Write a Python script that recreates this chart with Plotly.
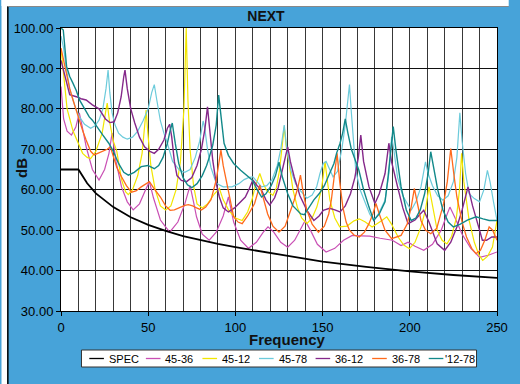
import plotly.graph_objects as go

# ---------------- data (frequency, dB) ----------------
series_names = ["SPEC", "45-36", "45-12", "45-78", "36-12", "36-78", "'12-78"]

spec_f = [0, 10, 15, 20, 30, 40, 50, 60, 70, 80, 90, 100, 125, 150, 175, 200, 225, 250]
spec_db = [65, 65, 61.6, 59.1, 55.7, 53.2, 51.3, 49.8, 48.5, 47.5, 46.6, 45.8, 44.0, 42.2, 40.9, 39.8, 38.9, 38.2]

pts_4536 = [(0,85.5),(1.5,77.5),(3.5,74.5),(6,73.5),(8.5,75.5),(10.5,79),(12,76),(14.5,70.5),(18,65),(21.8,62.4),
            (25,65),(27.5,69),(29.3,74),(31.5,67),(34.7,60.7),(38,57),(41.4,55),(45,56.5),(48.5,60),(50.7,62),
            (53,58),(57,52.5),(62.3,49.5),(67,52),(71,56.5),(74,61),(76,57),(77.7,53.3),(81,49),(85,47.5),
            (89,49.5),(93,53.5),(96,58.2),(99,52),(103,47.5),(107.5,45.5),(112,47),(116,49.5),(118.7,50.8),(122,49.5),
            (126,47),(130,45.8),(134,47.5),(137.5,50.5),(140,52.4),(143,50),(147,46.5),(152,44.6),(157,45.5),(162,47.5),
            (167,48.7),(172,48.6),(177,48.5),(183,48),(190,47.5),(195,46.2),(199,47),(203,46),(208,45),(213,46.5),
            (218,50),(221,53.5),(223,55.7),(226,53),(230,49),(235,45.5),(240,43.3),(245,43.8),(250,44.6)]

pts_4512 = [(0,95),(1.5,88),(3.5,80),(6.9,74.5),(9.7,71.5),(12.4,69),(15,68),(17,67.7),(20,69.5),(23.6,74),
            (25.5,79),(26.5,81.4),(27.8,77),(30,72),(32,69.5),(34.7,62.5),(37,59.5),(38.6,58.8),(41,60),(44,63.5),
            (46.5,69),(48,75),(48.8,79.7),(49.8,74),(51.5,66),(54,60),(57,56),(60,55),(63,56),(66,60),
            (68.5,67),(70.5,80),(71.8,100),(72.8,82),(74,70),(76,61),(78,56.5),(81,55.5),(84,56.5),(88,59),
            (90.8,60.3),(93,57.5),(96.2,54.9),(100,53),(103.9,52.4),(107,54.5),(109.5,57.5),(111.3,60.7),(114,64),(116,61.5),
            (117.8,59.9),(121.5,58.6),(123.5,60.5),(125.3,64.8),(126.8,70),(128,75.6),(129.3,70),(130.8,66.5),(133,60),(135.5,55.7),
            (138,53),(141,51.6),(144,53),(146.7,55.7),(149.3,60),(151.4,66.9),(152.8,62),(154.2,57.4),(157,53),(159.8,50.8),
            (164,51),(168,52.3),(171,52.8),(174.5,52),(178.4,50.8),(182,51.7),(184,52.4),(186.8,53.3),(189.5,51.5),(193.3,48.3),
            (196.5,46.3),(199.8,45.4),(203,47),(206.4,50.8),(209,55),(211,60.7),(213.3,55),(215.7,50),(218.5,47.5),(221.3,46.6),
            (224,48.5),(226.7,53),(228.5,60),(229.7,69),(231,62),(234,52.4),(237,47),(239.5,44),(241.8,42.5),(244.5,43.5),
            (247.4,45.8),(250,52.4)]

pts_4578 = [(0,98),(1.5,95),(3.2,89.6),(5,85),(6.9,82.2),(8.5,80),(10.6,78),(13.5,76.2),(17,75.2),(19.5,75.8),
            (21.8,77.2),(24,80),(25.8,85),(27,89.6),(28,84),(29.3,79),(31,76),(33,74),(35.5,73),(38,72.5),
            (41,73),(44,74.5),(47,77),(50,80),(52,84),(53.5,86),(55,82),(57,77),(59,74),(61,71.5),
            (64,67),(68,64.8),(71,64.3),(74,65),(77,68),(79.5,72),(81.5,77),(82.5,75),(84,70),(86,65.5),
            (89,61.6),(93,60.7),(98,60.7),(102,61.5),(105,62.5),(107.5,63),(110,63.2),(112.5,62),(115,60.7),(118,61),
            (121,62.5),(124,66),(126,70),(128,76),(129.5,70),(131.8,64.8),(134.5,61.5),(137,59.9),(141,57.9),(144,58.7),
            (146.6,60.7),(148.5,64),(150.4,66.5),(152,67),(154,65),(156,63.2),(158.5,64.5),(161,70),(163,76),(164.5,82),
            (165.4,86),(166.5,79),(169,64.8),(171.5,60),(174.6,56.6),(177,54),(179.3,52.4),(182,54),(185.8,57.4),(188,64),
            (189.6,73.1),(190.8,70),(193,63),(196,58.5),(200.8,54.9),(203.5,57),(206.4,60.7),(209,66.9),(210.5,64),(213,61),
            (216,58.5),(219,57.4),(222,58.5),(225,62),(227,68),(228.7,79),(230,72),(232,64),(234,59),(237,57.8),
            (240,57),(242.5,60),(244.5,64.8),(246,62),(248,57),(250,52.4)]

pts_3612 = [(0,92),(2.2,88),(3.2,86.4),(5,83.5),(8.8,83),(11.5,82.5),(14.4,82.2),(18,81),(21.8,80),(25.5,77.5),
            (28,76.6),(30.5,76.8),(32.5,79),(34.5,83),(36,88),(36.7,89.6),(38,85),(40,80),(42.3,76.5),(45,73),
            (47.9,70.6),(51,69.5),(53.5,69),(56,70),(59,72.3),(61,75.2),(62.3,76.2),(63.5,73),(65,67),(66.5,63.5),
            (69,62.3),(72,62),(75,63),(78,66),(80.5,70),(82.5,75),(84,80.5),(85.3,75),(87,67.3),(89,61.5),
            (90.8,58.2),(93,55.5),(96,54.5),(99.5,55.5),(102.5,56.7),(105.7,58.2),(108,60.3),(110,62.4),(112.5,61),(115,59.9),
            (117.5,57.5),(119.7,56.2),(122.5,58),(124.5,60.5),(126,63.2),(128,67),(130,70.6),(131.5,67),(133.7,63.2),(137,58.5),
            (141,54.9),(145,52.4),(148,53.5),(150.4,54.9),(154,55.4),(157,55),(160,54.5),(163,56),(166,59),(168.5,63),
            (170.5,68),(171.9,73.5),(173.5,67),(176.6,60.7),(180,56.6),(182.5,59),(185.8,64),(188,71.5),(189.5,67),(193,60.7),
            (196,55.5),(199,51.6),(203,52.5),(206,54),(208,54.9),(211,52),(215.7,46.6),(220,45),(223.5,47),(227,50.8),
            (230,55),(233.4,60.7),(236,56),(240,50),(241.6,47.5),(244,47.5),(247,48.3),(250,48.3)]

pts_3678 = [(0,95),(1.5,92),(3.2,88),(5,85),(6.9,82.2),(8.8,79.5),(10.6,77.2),(12.5,74.5),(14.4,72.3),(17,69.5),
            (19,68.6),(21.5,69),(24,69.5),(26.5,70),(28.3,70.6),(30,68),(32,65.5),(34.7,63.2),(37.5,61),(40.4,59.4),
            (43,59.7),(46,60.7),(48.5,61.5),(50.7,62),(53,60.5),(57,58.2),(60,56),(62.6,54.9),(65,55),(68.3,55.7),
            (71,56.1),(73,56.3),(75.5,56),(77.7,55.5),(80.5,55),(83,55.7),(86,57.5),(89,62.4),(90.5,66),(91.7,69.8),
            (93,66),(95.5,60.7),(99,53.3),(101.5,52),(103.9,51.6),(107,53.5),(109,55),(111,56.6),(114,61.1),(116,58),
            (118.5,54),(121.5,51),(125,49.5),(128.5,51),(131,54),(133.7,57.4),(135.8,60.5),(137.3,63.6),(139,59),(141,54.9),
            (144,51.5),(147.6,49.5),(151,51),(153.5,54),(155,57.4),(156.8,63),(158.3,69),(159.8,62),(161.6,55.7),(163.5,52),
            (165.4,50),(168,48.8),(171,48.3),(174,49.5),(176.6,51.6),(178.8,54),(180.6,56.6),(182.5,54),(185.8,50),(189.6,47.9),
            (195,48.7),(198.5,51.5),(200.8,55.7),(202.6,60.3),(204.5,56),(206.4,52.4),(209,50),(212,49.1),(215.5,50.5),(219.4,56.6),
            (221.5,62),(223.5,70.2),(225.2,64),(227,58.2),(230,52),(232.5,48.3),(235.5,45.5),(238,44.2),(240.5,45),(243,47.5),
            (245.5,50.8),(247.5,50),(250,47.5)]

pts_1278 = [(0,100),(1.3,99.5),(3.2,90.5),(5,88),(6.9,86.3),(8.8,84.5),(10.6,82.2),(13.4,80),(16.2,78),(18,77.2),
            (21,75.5),(24,73.5),(27.4,71.5),(30,69.5),(33,66.5),(36,64.3),(38.6,63.6),(42,64.3),(46,65.7),(49.8,66),
            (53.5,65.2),(56,66),(58.5,68),(61,71.5),(62.5,74.5),(63.8,76.5),(65.5,71.5),(67.5,66.5),(70,63),(72.5,61.2),
            (75,60.5),(78,61.5),(81,63.5),(83.5,66),(85,68),(87,71),(89,76),(90.4,83.4),(91.8,78),(93.5,71.5),
            (96,68.5),(99,66.5),(103,64.8),(106.5,63.5),(109.6,62.4),(112.5,60),(115,58.2),(117.5,59),(120.5,61),(123,63.5),
            (125,66.8),(127,63),(130,59),(133,56),(135,55),(137.5,54),(139.5,53.8),(142,55.5),(145,57.5),(148,59),
            (151,61),(154,64),(156.5,66.5),(158,69),(160,71.5),(161.5,74),(163,77.5),(164.5,74),(166.5,70),(170.8,64.8),
            (173.5,60),(176.6,55.7),(179.3,52.4),(182.5,54),(185.8,57),(187.5,63),(189,69),(190.5,75.6),(192,70),(195,60.7),
            (198,55),(200.8,52.4),(203.5,53),(206,55),(208.5,59),(210.5,64),(212,69.4),(213.5,66),(216,60),(219,55),
            (222,52),(225,50.8),(229,51.5),(233,52.5),(238,53.3),(242,52.8),(245.5,52.4),(250,52.4)]

x_ticks = [0, 50, 100, 150, 200, 250]
y_ticks = [30, 40, 50, 60, 70, 80, 90, 100]

# ---------------- styling ----------------
colors = ["#000000", "#C94FB4", "#F2E600", "#6CCBDB", "#85288A", "#FF6A1C", "#12898A"]
widths = [1.8, 1.2, 1.2, 1.2, 1.4, 1.3, 1.4]
BLUE = "#47A3D9"
FONT = "Liberation Sans, Arial, Helvetica, sans-serif"

W, H = 520, 384
L, R, T, B = 61, 508, 28, 311          # plot area in pixels
PW, PH = R - L, B - T

def px(xp):
    return (xp - L) / PW

def py(yp):
    return (B - yp) / PH

all_pts = [list(zip(spec_f, spec_db)), pts_4536, pts_4512, pts_4578, pts_3612, pts_3678, pts_1278]

fig = go.Figure()
order = [1, 2, 3, 4, 5, 6, 0]
for i in order:
    pts = all_pts[i]
    fig.add_trace(go.Scatter(
        x=[p[0] for p in pts], y=[p[1] for p in pts],
        mode="lines", name=series_names[i],
        line=dict(color=colors[i], width=widths[i]),
        showlegend=False, hoverinfo="skip"))

# white page edge at top/left of the blue panel
shapes = [
    dict(type="rect", xref="paper", yref="paper", x0=px(0), x1=px(6), y0=py(H), y1=py(0),
         fillcolor="white", line=dict(width=0), layer="below"),
    dict(type="rect", xref="paper", yref="paper", x0=px(0), x1=px(W), y0=py(6), y1=py(0),
         fillcolor="white", line=dict(width=0), layer="below"),
    dict(type="line", xref="paper", yref="paper", x0=px(6.5), x1=px(6.5), y0=py(H), y1=py(6),
         line=dict(color="black", width=1.5)),
    dict(type="line", xref="paper", yref="paper", x0=px(6), x1=px(W), y0=py(6.5), y1=py(6.5),
         line=dict(color="#888888", width=1)),
]

# compact legend box like the original
leg_x0, leg_x1, leg_y0, leg_y1 = 82, 487, 350, 367
leg_cy = (leg_y0 + leg_y1) / 2
shapes.append(dict(type="rect", xref="paper", yref="paper",
                   x0=px(leg_x0), x1=px(leg_x1), y0=py(leg_y1), y1=py(leg_y0),
                   fillcolor="white", line=dict(color="#333333", width=1)))
annotations = []
for k, name in enumerate(series_names):
    sx = 90 + 58 * k
    shapes.append(dict(type="line", xref="paper", yref="paper",
                       x0=px(sx), x1=px(sx + 15), y0=py(leg_cy), y1=py(leg_cy),
                       line=dict(color=colors[k], width=1.3)))
    tx = sx + (18 if not name.startswith("'") else 15)
    annotations.append(dict(text=name, xref="paper", yref="paper", x=px(tx), y=py(leg_cy),
                            xanchor="left", yanchor="middle", showarrow=False,
                            font=dict(family=FONT, size=11, color="black")))

annotations.append(dict(text="<b>Frequency</b>", xref="paper", yref="paper", x=px(293), y=py(339),
                        xanchor="center", yanchor="middle", showarrow=False,
                        font=dict(family=FONT, size=15, color="#111111")))
annotations.append(dict(text="<b>dB</b>", xref="paper", yref="paper", x=px(20), y=py(168),
                        xanchor="center", yanchor="middle", showarrow=False, textangle=-90,
                        font=dict(family=FONT, size=15, color="#111111")))

fig.update_layout(
    width=W, height=H, autosize=False,
    margin=dict(l=L, r=W - R, t=T, b=H - B, pad=0),
    paper_bgcolor=BLUE, plot_bgcolor="white",
    title=dict(text="<b>NEXT</b>", x=266 / W, xref="container", xanchor="center",
               y=1 - 16.5 / H, yref="container", yanchor="middle",
               font=dict(family=FONT, size=14, color="#111111")),
    showlegend=False,
    shapes=shapes, annotations=annotations,
    font=dict(family=FONT, size=13, color="black"),
)
fig.update_xaxes(range=[0, 250], tickvals=x_ticks, ticks="outside", ticklen=4, tickcolor="black",
                 showline=True, linecolor="black", linewidth=1, mirror=True,
                 showgrid=True, gridcolor="#383838", gridwidth=1.2,
                 minor=dict(dtick=10, showgrid=True, gridcolor="#383838", gridwidth=1.2, ticks=""),
                 zeroline=False, tickfont=dict(family=FONT, size=13, color="black"))
fig.update_yaxes(range=[30, 100], tickvals=y_ticks, tickformat=".2f", ticks="outside", ticklen=4,
                 tickcolor="black", showline=True, linecolor="black", linewidth=1, mirror=True,
                 showgrid=True, gridcolor="#111111", gridwidth=1, zeroline=False,
                 tickfont=dict(family=FONT, size=13, color="black"))

# drop the default 8px page margin so the 520x384 figure fills the window
post = "document.body.style.margin='0';document.body.style.overflow='hidden';"
fig.write_html("out.html", config={"responsive": False, "displayModeBar": False},
               post_script=post)
